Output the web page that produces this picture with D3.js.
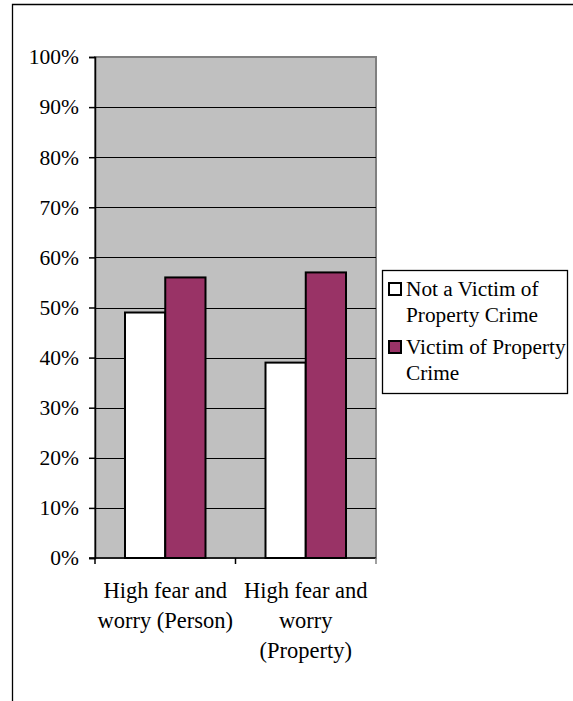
<!DOCTYPE html>
<html>
<head>
<meta charset="utf-8">
<script src="https://cdn.jsdelivr.net/npm/d3@7"></script>
<style>
  body { margin: 0; background: #fff; }
</style>
</head>
<body>
<div id="chartdiv"></div>
<script>
//chart data
var categories = [["High fear and", "worry (Person)"], ["High fear and", "worry", "(Property)"]];
var seriesNames = ["Not a Victim of Property Crime", "Victim of Property Crime"];
var legendLines = [["Not a Victim of", "Property Crime"], ["Victim of Property", "Crime"]];
var notVictim = [49, 39];
var victim = [56, 57];
var yTicks = [0, 10, 20, 30, 40, 50, 60, 70, 80, 90, 100];

(function(){
  var width = 573, height = 701;
  var colors = ["#ffffff", "#993366"];
  var serif = "'Liberation Serif', 'Times New Roman', 'DejaVu Serif', serif";

  var svg = d3.select("#chartdiv")
      .append("svg")
      .attr("width", width)
      .attr("height", height);

  //outer frame (only top and left edges visible)
  svg.append("path")
      .attr("d", "M12.5," + height + "V4.5H" + width)
      .attr("fill", "none")
      .attr("stroke", "#000")
      .attr("stroke-width", 1.3);

  //plot area
  var plot = {left: 95, right: 376, top: 57, bottom: 558};

  var x0 = d3.scaleBand()
      .domain(d3.range(categories.length))
      .range([plot.left, plot.right]);

  var x1 = d3.scaleBand()
      .domain(d3.range(seriesNames.length))
      .range([30, x0.bandwidth() - 30]);

  var y = d3.scaleLinear()
      .domain([0, 100])
      .range([plot.bottom, plot.top]);

  svg.append("rect")
      .attr("x", plot.left)
      .attr("y", plot.top)
      .attr("width", plot.right - plot.left)
      .attr("height", plot.bottom - plot.top)
      .attr("fill", "#c0c0c0")
      .attr("stroke", "#808080")
      .attr("stroke-width", 2);

  //gridlines
  svg.selectAll(".grid")
      .data(yTicks.slice(1, -1))
      .enter()
      .append("line")
      .attr("x1", plot.left)
      .attr("x2", plot.right)
      .attr("y1", function(d){ return Math.round(y(d)) + 0.5; })
      .attr("y2", function(d){ return Math.round(y(d)) + 0.5; })
      .attr("stroke", "#000")
      .attr("stroke-width", 1);

  //bars
  var data = [notVictim, victim];
  var groups = svg.selectAll(".group")
      .data(categories)
      .enter()
      .append("g")
      .attr("transform", function(d, i){ return "translate(" + x0(i) + ",0)"; });

  groups.selectAll("rect")
      .data(function(d, i){ return data.map(function(s){ return s[i]; }); })
      .enter()
      .append("rect")
      .attr("x", function(d, j){ return x1(j); })
      .attr("width", x1.bandwidth())
      .attr("y", function(d){ return y(d); })
      .attr("height", function(d){ return plot.bottom - y(d); })
      .attr("fill", function(d, j){ return colors[j]; })
      .attr("stroke", "#000")
      .attr("stroke-width", 2);

  //y axis
  var yAxis = svg.append("g")
      .attr("transform", "translate(" + plot.left + ",0)")
      .call(d3.axisLeft(y).tickValues(yTicks).tickFormat(function(d){ return d + "%"; }).tickSize(6).tickPadding(10));
  yAxis.select(".domain").attr("stroke", "#000").attr("stroke-width", 1.5);
  yAxis.selectAll(".tick line").attr("stroke", "#000").attr("stroke-width", 1.5);
  yAxis.selectAll("text")
      .style("font-family", serif)
      .style("font-size", "21.5px")
      .attr("fill", "#000");

  //x axis line and ticks at category boundaries
  svg.append("line")
      .attr("x1", plot.left - 6)
      .attr("x2", plot.right)
      .attr("y1", plot.bottom)
      .attr("y2", plot.bottom)
      .attr("stroke", "#000")
      .attr("stroke-width", 1.5);

  svg.selectAll(".xtick")
      .data(d3.range(categories.length + 1))
      .enter()
      .append("line")
      .attr("x1", function(d){ return plot.left + d * x0.step(); })
      .attr("x2", function(d){ return plot.left + d * x0.step(); })
      .attr("y1", plot.bottom)
      .attr("y2", plot.bottom + 6)
      .attr("stroke", function(d){ return d == categories.length ? "#808080" : "#000"; })
      .attr("stroke-width", 1.5);

  //category labels
  var labels = svg.selectAll(".catLabel")
      .data(categories)
      .enter()
      .append("text")
      .attr("text-anchor", "middle")
      .style("font-family", serif)
      .style("font-size", "22.5px")
      .attr("x", function(d, i){ return x0(i) + x0.bandwidth() / 2; })
      .attr("y", 598);
  labels.selectAll("tspan")
      .data(function(d){ return d; })
      .enter()
      .append("tspan")
      .attr("x", function(){ return d3.select(this.parentNode).attr("x"); })
      .attr("dy", function(d, i){ return i == 0 ? 0 : 30; })
      .text(function(d){ return d; });

  //legend
  var legend = svg.append("g");
  legend.append("rect")
      .attr("x", 382.5)
      .attr("y", 270.5)
      .attr("width", 185)
      .attr("height", 123)
      .attr("fill", "#fff")
      .attr("stroke", "#000")
      .attr("stroke-width", 1.3);

  var items = legend.selectAll(".item")
      .data(seriesNames)
      .enter()
      .append("g")
      .attr("transform", function(d, i){ return "translate(0," + (i * 58) + ")"; });

  items.append("rect")
      .attr("x", 389)
      .attr("y", 283)
      .attr("width", 12)
      .attr("height", 12)
      .attr("fill", function(d, i){ return colors[i]; })
      .attr("stroke", "#000")
      .attr("stroke-width", 2);

  var legendText = items.append("text")
      .style("font-family", serif)
      .style("font-size", "21.3px")
      .attr("x", 406)
      .attr("y", 296);
  legendText.selectAll("tspan")
      .data(function(d, i){ return legendLines[i]; })
      .enter()
      .append("tspan")
      .attr("x", 406)
      .attr("dy", function(d, i){ return i == 0 ? 0 : 26; })
      .text(function(d){ return d; });
})();
</script>
</body>
</html>
